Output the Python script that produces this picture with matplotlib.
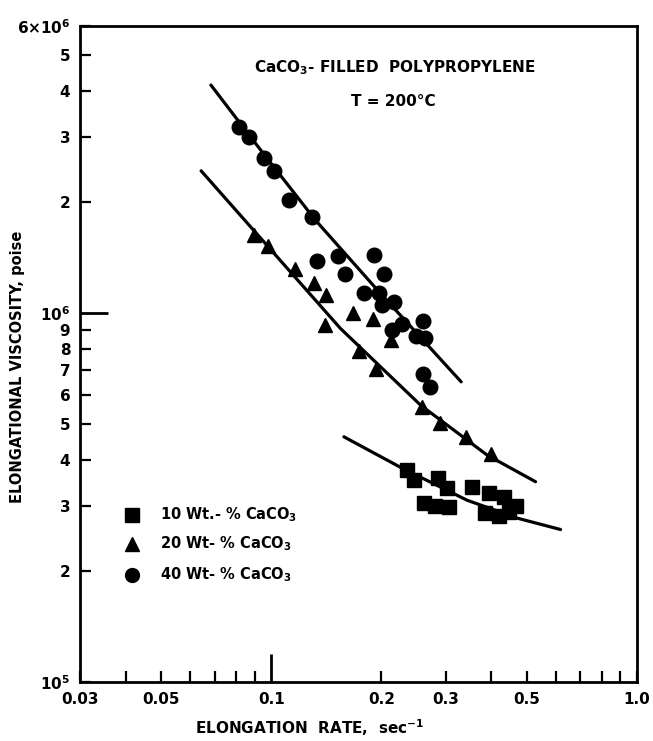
import numpy as np
import matplotlib.pyplot as plt
from matplotlib.ticker import FixedLocator, FixedFormatter

plt.rcParams['font.family'] = ['DejaVu Sans']
plt.rcParams['mathtext.fontset'] = 'dejavusans'

# Elongational viscosity (poise) vs elongation rate (1/s), CaCO3 filled PP at 200 C
rate_10 = [0.235, 0.245, 0.285, 0.303, 0.354, 0.393, 0.432, 0.466,
           0.261, 0.281, 0.306, 0.385, 0.419, 0.446]
visc_10 = [3.75e5, 3.53e5, 3.57e5, 3.36e5, 3.38e5, 3.25e5, 3.17e5, 3.00e5,
           3.06e5, 3.00e5, 2.99e5, 2.87e5, 2.82e5, 2.89e5]

rate_20 = [0.0899, 0.0977, 0.116, 0.131, 0.141, 0.140, 0.167, 0.190,
           0.212, 0.174, 0.193, 0.259, 0.290, 0.340, 0.398]
visc_20 = [1.63e6, 1.52e6, 1.32e6, 1.21e6, 1.12e6, 9.28e5, 9.98e5, 9.61e5,
           8.45e5, 7.89e5, 7.05e5, 5.56e5, 5.04e5, 4.60e5, 4.16e5]

rate_40 = [0.0814, 0.0872, 0.0957, 0.1015, 0.1115, 0.129, 0.133, 0.152,
           0.159, 0.191, 0.204, 0.179, 0.197, 0.201, 0.216, 0.228,
           0.214, 0.260, 0.248, 0.264, 0.260, 0.271]
visc_40 = [3.19e6, 3.00e6, 2.64e6, 2.43e6, 2.02e6, 1.82e6, 1.38e6, 1.43e6,
           1.28e6, 1.44e6, 1.28e6, 1.13e6, 1.13e6, 1.05e6, 1.07e6, 9.34e5,
           8.99e5, 9.51e5, 8.66e5, 8.54e5, 6.83e5, 6.29e5]

# hand-drawn trend curves
curve_10_x = [0.158, 0.2255, 0.343, 0.471, 0.618]
curve_10_y = [4.62e5, 3.82e5, 3.11e5, 2.78e5, 2.59e5]
curve_20_x = [0.0643, 0.1545, 0.256, 0.3895, 0.528]
curve_20_y = [2.43e6, 9.09e5, 5.63e5, 4.12e5, 3.49e5]
curve_40_x = [0.0684, 0.0914, 0.132, 0.1988, 0.3306]
curve_40_y = [4.15e6, 2.85e6, 1.787e6, 1.131e6, 6.51e5]

legend_labels = [r'10 Wt.- % CaCO$_\mathbf{3}$',
                 r'20 Wt- % CaCO$_\mathbf{3}$',
                 r'40 Wt- % CaCO$_\mathbf{3}$']

x_minor = [0.03, 0.04, 0.05, 0.06, 0.07, 0.08, 0.09,
           0.2, 0.3, 0.4, 0.5, 0.6, 0.7, 0.8, 0.9, 1.0]
x_minor_labels = ['0.03', '', '0.05', '', '', '', '',
                  '0.2', '0.3', '', '0.5', '', '', '', '', '1.0']
y_minor = [1e5, 2e5, 3e5, 4e5, 5e5, 6e5, 7e5, 8e5, 9e5,
           2e6, 3e6, 4e6, 5e6, 6e6]
y_minor_labels = [r'$\mathbf{10^5}$', '2', '3', '4', '5', '6', '7', '8', '9',
                  '2', '3', '4', '5', r'$\mathbf{6{\times}10^6}$']

fig = plt.figure(figsize=(6.53, 7.41), dpi=100)
ax = fig.add_axes([80/653, 59/741, 557/653, 656/741])
ax.set_xscale('log')
ax.set_yscale('log')
ax.set_xlim(0.03, 1.0)
ax.set_ylim(1e5, 6e6)

lw = 2.3
ax.plot(curve_10_x, curve_10_y, color='black', lw=lw, solid_capstyle='round')
ax.plot(curve_20_x, curve_20_y, color='black', lw=lw, solid_capstyle='round')
ax.plot(curve_40_x, curve_40_y, color='black', lw=lw, solid_capstyle='round')

ax.plot(rate_10, visc_10, 's', color='black', ms=9.5, ls='none')
ax.plot(rate_20, visc_20, '^', color='black', ms=10.5, ls='none')
ax.plot(rate_40, visc_40, 'o', color='black', ms=10.5, ls='none')

for s in ax.spines.values():
    s.set_linewidth(2.0)

ax.xaxis.set_major_locator(FixedLocator([0.1]))
ax.xaxis.set_major_formatter(FixedFormatter(['0.1']))
ax.xaxis.set_minor_locator(FixedLocator(x_minor))
ax.xaxis.set_minor_formatter(FixedFormatter(x_minor_labels))
ax.yaxis.set_major_locator(FixedLocator([1e6]))
ax.yaxis.set_major_formatter(FixedFormatter([r'$\mathbf{10^6}$']))
ax.yaxis.set_minor_locator(FixedLocator(y_minor))
ax.yaxis.set_minor_formatter(FixedFormatter(y_minor_labels))

ax.tick_params(which='major', direction='in', length=20, width=2.0,
               labelsize=11, pad=7)
ax.tick_params(which='minor', direction='in', length=8, width=1.6,
               labelsize=11, pad=7)
for lab in ax.get_xticklabels(which='both') + ax.get_yticklabels(which='both'):
    lab.set_fontweight('bold')

fig.text(18/653, 1 - 367/741, 'ELONGATIONAL VISCOSITY, poise', rotation=90,
         ha='center', va='center', fontsize=10.5, fontweight='bold')
fig.text(310/653, 1 - 728/741, r'ELONGATION  RATE,  sec$^\mathbf{-1}$',
         ha='center', va='center', fontsize=11, fontweight='bold')

fig.text(395/653, 1 - 68/741, r'CaCO$_\mathbf{3}$- FILLED  POLYPROPYLENE',
         ha='center', va='center', fontsize=11, fontweight='bold')
fig.text(393/653, 1 - 102/741, 'T = 200\u00b0C',
         ha='center', va='center', fontsize=11, fontweight='bold')

# legend drawn by hand
markers = ['s', '^', 'o']
rows_y = [0.2546, 0.2104, 0.1631]
for m, yy, lab in zip(markers, rows_y, legend_labels):
    ax.plot([0.0934], [yy], m, color='black', ms=10, transform=ax.transAxes,
            clip_on=False)
    ax.text(0.1436, yy, lab, transform=ax.transAxes, ha='left', va='center',
            fontsize=10.5, fontweight='bold')

fig.savefig('out.png', dpi=100)
